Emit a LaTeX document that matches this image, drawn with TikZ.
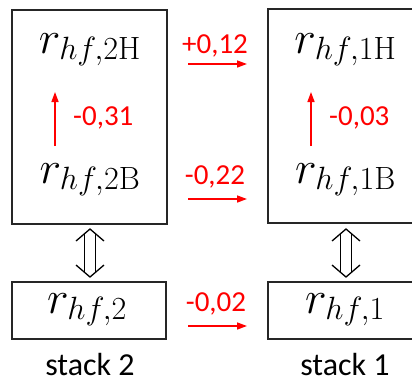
\RequirePackage{fix-cm}
\documentclass[tikz,border=0pt]{standalone}
\usepackage[no-math]{fontspec}
\setmainfont{Carlito}
\usetikzlibrary{arrows.meta}
\begin{document}
\begin{tikzpicture}[x=1pt,y=-1pt,
  box/.style={draw=black!85,line width=1.3pt},
  mathlbl/.style={inner sep=0pt,anchor=base,font=\fontsize{46}{50}\selectfont},
  redarrow/.style={draw=red,line width=1.5pt,-{Triangle[length=10pt,width=7pt]}},
  redlbl/.style={text=red,inner sep=0pt,font=\fontsize{29}{30}\selectfont},
  stacklbl/.style={inner sep=0pt,anchor=base,text depth=0pt,font=\fontsize{32}{36}\selectfont},
  dblline/.style={draw=black,line width=1.3pt,line join=miter},
  updown/.pic={
    \draw[dblline] (-14,-12) -- (0,-24) -- (14,-12);
    \draw[dblline] (-14,12) -- (0,24) -- (14,12);
    \draw[dblline] (-5.5,-19.3) -- (-5.5,19.3);
    \draw[dblline] (5.5,-19.3) -- (5.5,19.3);
  }]
\useasboundingbox (0,0) rectangle (412,378);
\clip (0,0) rectangle (412,378);
% boxes
\draw[box] (12,10) rectangle (167,224);
\draw[box] (268,9) rectangle (420,223);
\draw[box] (12,282) rectangle (166,339);
\draw[box] (268,282) rectangle (420,339);
% math texts
\node[mathlbl] (r2H) at (90,53) {$r_{hf,2\mathrm{H}}$};
\node[mathlbl] (r2B) at (90,183) {$r_{hf,2\mathrm{B}}$};
\node[mathlbl] (r1H) at (345.5,53) {$r_{hf,1\mathrm{H}}$};
\node[mathlbl] (r1B) at (345.5,183) {$r_{hf,1\mathrm{B}}$};
\node[mathlbl] (r2) at (87,313) {$r_{hf,2}$};
\node[mathlbl] (r1) at (345,313) {$r_{hf,1}$};
% vertical red arrows
\coordinate (v2a) at (55,146); \coordinate (v2b) at (55,92);
\coordinate (v1a) at (311,146); \coordinate (v1b) at (311,92);
\draw[redarrow] (v2a) -- (v2b);
\draw[redarrow] (v1a) -- (v1b);
\node[redlbl,anchor=west] (l31) at (73,118) {-0,31};
\node[redlbl,anchor=west] (l03) at (329,118) {-0,03};
% horizontal red arrows
\coordinate (h1a) at (188,64); \coordinate (h1b) at (247,64);
\coordinate (h2a) at (188,199); \coordinate (h2b) at (247,199);
\coordinate (h3a) at (188,326); \coordinate (h3b) at (247,326);
\draw[redarrow] (h1a) -- (h1b);
\draw[redarrow] (h2a) -- (h2b);
\draw[redarrow] (h3a) -- (h3b);
\node[redlbl] (l12) at (215,46) {+0,12};
\node[redlbl] (l22) at (215,177) {-0,22};
\node[redlbl] (l02) at (216,304) {-0,02};
% double arrows
\coordinate (d2) at (90,253);
\coordinate (d1) at (346,253);
\pic at (d2) {updown};
\pic at (d1) {updown};
% stack labels
\node[stacklbl] (s2) at (90,375) {stack 2};
\node[stacklbl] (s1) at (345,375) {stack 1};
\end{tikzpicture}
\end{document}
